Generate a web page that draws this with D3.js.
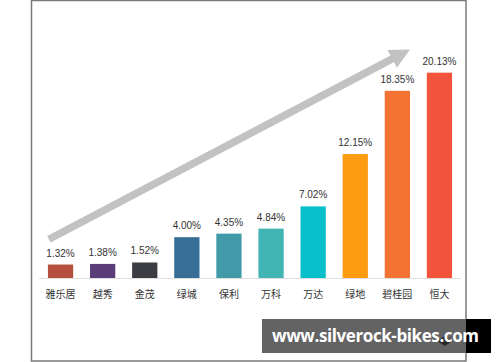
<!DOCTYPE html>
<html>
<head>
<meta charset="utf-8">
<script src="https://cdn.jsdelivr.net/npm/d3@7"></script>
<style>
  html, body { margin: 0; padding: 0; background: #fff; }
  svg { display: block; }
</style>
</head>
<body>
<script>
// data
var companies = ["雅乐居", "越秀", "金茂", "绿城", "保利", "万科", "万达", "绿地", "碧桂园", "恒大"];
var shares = [1.32, 1.38, 1.52, 4.00, 4.35, 4.84, 7.02, 12.15, 18.35, 20.13];
var labels = ["1.32%", "1.38%", "1.52%", "4.00%", "4.35%", "4.84%", "7.02%", "12.15%", "18.35%", "20.13%"];
var barColors = ["#b5503f", "#5a3c78", "#3b3d42", "#366e96", "#4299a8", "#40b5b4", "#06bfcb", "#fd9b13", "#f47232", "#f2533b"];

var width = 500, height = 362;

var svg = d3.select("body").append("svg")
    .attr("width", width)
    .attr("height", height);

var xScale = d3.scaleBand().domain(companies).range([39.5, 460.5]).paddingInner(0.4).paddingOuter(0.2);
var yScale = d3.scaleLinear().domain([0, 25]).range([278, 23]);

// frame
svg.append("rect")
    .attr("x", 31.5).attr("y", 0.5)
    .attr("width", 434.5).attr("height", 360.5)
    .attr("fill", "none")
    .attr("stroke", "#7a7a7a")
    .attr("stroke-width", 1.5);

// baseline
svg.append("line")
    .attr("x1", 39).attr("x2", 461)
    .attr("y1", yScale(0) + 0.5).attr("y2", yScale(0) + 0.5)
    .attr("stroke", "#dedede")
    .attr("stroke-width", 1);

// trend arrow, anchored to the scales
var ax0 = xScale(companies[0]) + 1, ay0 = yScale(3.8);
var ax1 = xScale(companies[8]) + xScale.bandwidth(), ay1 = yScale(22.4);
var ang = Math.atan2(ay1 - ay0, ax1 - ax0);
var headLen = 20, headHalf = 10;
var bx = ax1 - headLen * Math.cos(ang), by = ay1 - headLen * Math.sin(ang);
var px = -Math.sin(ang), py = Math.cos(ang);

svg.append("line")
    .attr("x1", ax0).attr("y1", ay0)
    .attr("x2", bx + 2 * Math.cos(ang)).attr("y2", by + 2 * Math.sin(ang))
    .attr("stroke", "#c2c2c2")
    .attr("stroke-width", 7.5);

svg.append("path")
    .attr("d", "M" + ax1 + "," + ay1 +
        " L" + (bx + px * headHalf) + "," + (by + py * headHalf) +
        " L" + (bx - px * headHalf) + "," + (by - py * headHalf) + " Z")
    .attr("fill", "#c2c2c2");

// bars
var bars = svg.selectAll(".bar").data(companies)
    .enter()
    .append("rect")
    .attr("class", "bar")
    .attr("x", function (d) { return xScale(d); })
    .attr("y", function (d, i) { return yScale(shares[i]); })
    .attr("width", xScale.bandwidth())
    .attr("height", function (d, i) { return yScale(0) - yScale(shares[i]); })
    .attr("fill", function (d, i) { return barColors[i]; });

// value labels
svg.selectAll(".val").data(companies)
    .enter()
    .append("text")
    .attr("class", "val")
    .attr("x", function (d) { return xScale(d) + xScale.bandwidth() / 2; })
    .attr("y", function (d, i) { return yScale(shares[i]) - 8; })
    .attr("text-anchor", "middle")
    .attr("font-family", "Liberation Sans, Arial, sans-serif")
    .attr("font-size", 10)
    .attr("fill", "#333")
    .text(function (d, i) { return labels[i]; });

// category labels
svg.selectAll(".cat").data(companies)
    .enter()
    .append("text")
    .attr("class", "cat")
    .attr("x", function (d) { return xScale(d) + xScale.bandwidth() / 2; })
    .attr("y", yScale(0) + 20)
    .attr("text-anchor", "middle")
    .attr("font-family", "Noto Sans CJK SC, sans-serif")
    .attr("font-size", 10)
    .attr("fill", "#333")
    .text(function (d) { return d; });

// watermark
svg.append("rect")
    .attr("x", 262).attr("y", 319)
    .attr("width", 204).attr("height", 34)
    .attr("fill", "#636363");
svg.append("rect")
    .attr("x", 466).attr("y", 319)
    .attr("width", 25).attr("height", 34)
    .attr("fill", "#000");
svg.append("path")
    .attr("d", "M437,341 l8,-5 l7,5 l-7,5 z")
    .attr("fill", "#2a2a2a");
svg.append("text")
    .attr("x", 375.5).attr("y", 342)
    .attr("text-anchor", "middle")
    .attr("font-family", "Open Sans, DejaVu Sans, sans-serif")
    .attr("font-weight", "bold")
    .attr("font-size", 17)
    .attr("fill", "#fff")
    .attr("textLength", 207)
    .text("www.silverock-bikes.com");
</script>
</body>
</html>
